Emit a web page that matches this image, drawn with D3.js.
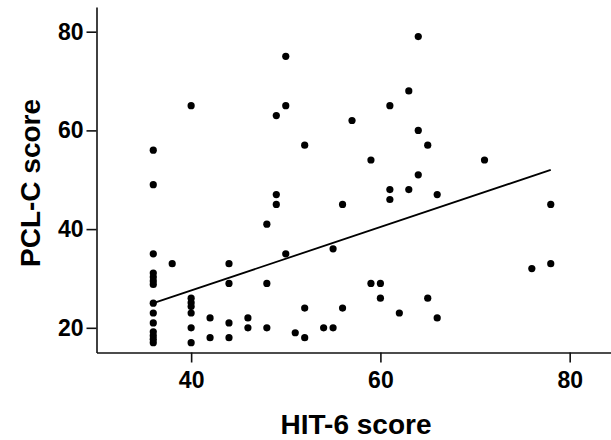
<!DOCTYPE html>
<html lang="en">
<head>
<meta charset="utf-8">
<title>HIT-6 vs PCL-C</title>
<script src="https://d3js.org/d3.v7.min.js"></script>
<style>
  body { margin: 0; background: #fff; }
  text { font-family: "Liberation Sans", Arial, sans-serif; font-weight: bold; }
</style>
</head>
<body>
<svg width="611" height="440"></svg>
<script>

// HIT-6 score (x) and PCL-C score (y) for each participant
var hitScores = [36, 36, 36, 36, 36, 36, 36, 36, 36, 36, 36, 36, 36, 36,
                 38,
                 40, 40, 40, 40, 40, 40, 40,
                 42, 42,
                 44, 44, 44, 44,
                 46, 46,
                 48, 48, 48,
                 49, 49, 49,
                 50, 50, 50,
                 51,
                 52, 52, 52,
                 54,
                 55, 55,
                 56, 56,
                 57,
                 59, 59,
                 60, 60,
                 61, 61, 61,
                 62,
                 63, 63,
                 64, 64, 64,
                 65, 65,
                 66, 66,
                 71,
                 76,
                 78, 78];
var pclScores = [56, 49, 35, 31.1, 30.3, 29.5, 28.8, 25, 23, 21, 19.2, 18.4, 17.7, 17,
                 33,
                 65, 26, 25.1, 24.3, 23, 20, 17,
                 22, 18,
                 33, 29, 21, 18,
                 22, 20,
                 41, 29, 20,
                 63, 47, 45,
                 75, 65, 35,
                 19,
                 57, 24, 18,
                 20,
                 36, 20,
                 45, 24,
                 62,
                 54, 29,
                 29, 26,
                 65, 48, 46,
                 23,
                 68, 48,
                 79, 60, 51,
                 57, 26,
                 47, 22,
                 54,
                 32,
                 45, 33];

// fitted regression line end points
var fitX = [36, 78];
var fitY = [25, 52];

var xTicks = [40, 60, 80];
var yTicks = [20, 40, 60, 80];

var svg = d3.select("svg");

var xScale = d3.scaleLinear().domain([30, 85]).range([96.5, 617]),
    yScale = d3.scaleLinear().domain([15, 85]).range([352.5, 7]);

// x axis
svg.append("g")
    .attr("transform", "translate(0," + yScale(15) + ")")
    .call(d3.axisBottom(xScale).tickValues(xTicks).tickSize(10).tickSizeOuter(0).tickPadding(9));

// y axis
svg.append("g")
    .attr("transform", "translate(" + xScale(30) + ",0)")
    .call(d3.axisLeft(yScale).tickValues(yTicks).tickSize(10).tickSizeOuter(0).tickPadding(3));

svg.selectAll(".domain, .tick line")
    .attr("stroke", "#111")
    .attr("stroke-width", 1.6);

svg.selectAll(".tick text")
    .attr("fill", "#000")
    .style("font-size", "23px");

// regression line
svg.append("line")
    .attr("x1", xScale(fitX[0]))
    .attr("y1", yScale(fitY[0]))
    .attr("x2", xScale(fitX[1]))
    .attr("y2", yScale(fitY[1]))
    .attr("stroke", "#000")
    .attr("stroke-width", 1.8);

// points
svg.selectAll(".dot")
  .data(hitScores)
  .enter().append("circle")
    .attr("class", "dot")
    .attr("cx", function(d) { return xScale(d); })
    .attr("cy", function(d, i) { return yScale(pclScores[i]); })
    .attr("r", 3.6)
    .attr("fill", "#000");

// axis titles
svg.append("text")
    .attr("x", 356)
    .attr("y", 434)
    .attr("text-anchor", "middle")
    .style("font-size", "28px")
    .text("HIT-6 score");

svg.append("text")
    .attr("transform", "translate(40,183) rotate(-90)")
    .attr("text-anchor", "middle")
    .style("font-size", "28px")
    .text("PCL-C score");

</script>
</body>
</html>
